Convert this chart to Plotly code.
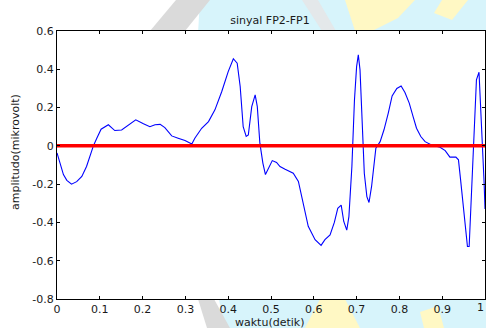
import plotly.graph_objects as go

# time (s) and amplitude (microvolt) of the FP2-FP1 signal
waktu = [0.000, 0.007, 0.015, 0.023, 0.034, 0.046, 0.058, 0.069, 0.077, 0.085,
         0.093, 0.103, 0.120, 0.135, 0.151, 0.171, 0.184, 0.202, 0.217, 0.229,
         0.241, 0.252, 0.268, 0.283, 0.299, 0.315, 0.322, 0.338, 0.354, 0.369,
         0.385, 0.400, 0.412, 0.421, 0.428, 0.435, 0.442, 0.447, 0.455, 0.463,
         0.468, 0.474, 0.481, 0.487, 0.494, 0.503, 0.513, 0.521, 0.533, 0.540,
         0.552, 0.564, 0.572, 0.578, 0.587, 0.603, 0.617, 0.626, 0.638, 0.648,
         0.656, 0.664, 0.670, 0.677, 0.682, 0.689, 0.695, 0.700, 0.704, 0.708,
         0.713, 0.718, 0.724, 0.729, 0.735, 0.741, 0.745, 0.755, 0.764, 0.774,
         0.783, 0.794, 0.804, 0.813, 0.823, 0.832, 0.840, 0.850, 0.860, 0.875,
         0.895, 0.907, 0.918, 0.932, 0.938, 0.943, 0.951, 0.959, 0.963, 0.969,
         0.975, 0.980, 0.986, 0.992, 0.998, 1.000]
amplitudo = [-0.037, -0.090, -0.150, -0.180, -0.200, -0.187, -0.160, -0.108, -0.047, 0.000,
             0.040, 0.087, 0.110, 0.080, 0.083, 0.115, 0.136, 0.115, 0.100, 0.110,
             0.112, 0.095, 0.052, 0.040, 0.028, 0.010, 0.040, 0.092, 0.127, 0.188,
             0.284, 0.388, 0.455, 0.432, 0.310, 0.100, 0.049, 0.057, 0.205, 0.266,
             0.205, 0.014, -0.090, -0.150, -0.117, -0.077, -0.087, -0.108, -0.122, -0.130,
             -0.143, -0.186, -0.265, -0.334, -0.420, -0.490, -0.520, -0.490, -0.465, -0.400,
             -0.326, -0.310, -0.395, -0.440, -0.370, -0.108, 0.240, 0.414, 0.475, 0.397,
             0.118, -0.143, -0.265, -0.296, -0.212, -0.099, -0.012, 0.022, 0.084, 0.171,
             0.261, 0.300, 0.313, 0.279, 0.223, 0.153, 0.092, 0.049, 0.022, 0.005,
             -0.007, -0.025, -0.059, -0.059, -0.073, -0.178, -0.370, -0.526, -0.526, -0.247,
             0.100, 0.345, 0.385, 0.118, -0.195, -0.330]

# zero reference line
ref_x = [0.0, 1.0]
ref_y = [0.0, 0.0]

y_ticks = [-0.8, -0.6, -0.4, -0.2, 0, 0.2, 0.4, 0.6]
y_labels = ["-0.8", "-0.6", "-0.4", "-0.2", "0", "0.2", "0.4", "0.6"]
x_ticks = [0, 0.1, 0.2, 0.3, 0.4, 0.5, 0.6, 0.7, 0.8, 0.9]
x_labels = ["0", "0.1", "0.2", "0.3", "0.4", "0.5", "0.6", "0.7", "0.8", "0.9"]

font = "DejaVu Sans, Verdana, sans-serif"
txt = "#1a1a1a"

# ---- layout geometry (pixels) for the background watermark ----
W, H = 486, 328
L, R, T, B = 57, 1, 31, 29
PW, PH = W - L - R, H - T - B


def px(x, y):
    return (x - L) / PW, (H - B - y) / PH


def poly(points):
    pts = [px(x, y) for x, y in points]
    return "M " + " L ".join(f"{a:.4f},{b:.4f}" for a, b in pts) + " Z"


cyan = "rgb(215,244,251)"
grey = "rgb(218,218,218)"
pale_grey = "rgb(228,232,234)"
yellow = "rgb(255,248,196)"

wm_shapes = [
    (poly([(200, 0), (486, 0), (486, 328), (225, 328), (190, 165)]), cyan),
    (poly([(150, 31), (185, 31), (210, 0), (176, 0)]), grey),
    (poly([(198, 299), (214, 299), (230, 328), (207, 328)]), grey),
    (poly([(302, 0), (318, 0), (336, 31), (322, 31)]), pale_grey),
    (poly([(345, 0), (415, 0), (398, 18), (372, 31), (355, 31)]), yellow),
    (poly([(442, 0), (468, 0), (452, 20), (434, 13)]), yellow),
    (poly([(305, 328), (320, 299), (345, 299), (360, 328)]), yellow),
    (poly([(420, 312), (438, 306), (444, 328), (424, 328)]), yellow),
]

fig = go.Figure()
fig.add_trace(go.Scatter(x=waktu, y=amplitudo, mode="lines",
                         line=dict(color="rgb(0,0,255)", width=1.1),
                         showlegend=False, hoverinfo="skip"))
fig.add_trace(go.Scatter(x=ref_x, y=ref_y, mode="lines",
                         line=dict(color="rgb(255,0,0)", width=3.5),
                         showlegend=False, hoverinfo="skip"))

shapes = [dict(type="path", path=p, xref="paper", yref="paper", fillcolor=c,
               line=dict(width=0), layer="below") for p, c in wm_shapes]
shapes.append(dict(type="rect", x0=0, x1=1, y0=0, y1=1, xref="paper", yref="paper",
                   fillcolor="white", line=dict(width=0), layer="below"))

axis_common = dict(showgrid=False, zeroline=False, showline=True, linecolor="black",
                   linewidth=1.2, mirror="ticks", ticks="inside", ticklen=3,
                   tickcolor="black", automargin=False,
                   tickfont=dict(family=font, size=11, color=txt))

fig.update_layout(
    width=W, height=H,
    margin=dict(l=L, r=R, t=T, b=B, pad=0),
    paper_bgcolor="white", plot_bgcolor="white",
    shapes=shapes,
    title=dict(text="sinyal FP2-FP1", x=270 / W, xanchor="center", y=1 - 20 / H, yanchor="middle",
               font=dict(family=font, size=11, color=txt)),
    xaxis=dict(range=[0, 1], tickvals=x_ticks, ticktext=x_labels, **axis_common),
    yaxis=dict(range=[-0.8, 0.6], tickvals=y_ticks, ticktext=y_labels, **axis_common),
    annotations=[
        dict(text="waktu(detik)", x=px(269, 0)[0], y=px(0, 322)[1], xref="paper", yref="paper",
             xanchor="center", yanchor="middle", showarrow=False,
             font=dict(family=font, size=11, color=txt)),
        dict(text="amplitudo(mikrovolt)", x=px(15, 0)[0], y=px(0, 152)[1], xref="paper",
             yref="paper", xanchor="center", yanchor="middle", textangle=-90, showarrow=False,
             font=dict(family=font, size=11, color=txt)),
        dict(text="1", x=px(486, 0)[0], y=px(0, 307)[1], xref="paper", yref="paper",
             xanchor="right", yanchor="middle", showarrow=False,
             font=dict(family=font, size=11, color=txt)),
    ],
)

fig.write_html("out.html", config={"displayModeBar": False},
               post_script="document.body.style.margin='0';")
